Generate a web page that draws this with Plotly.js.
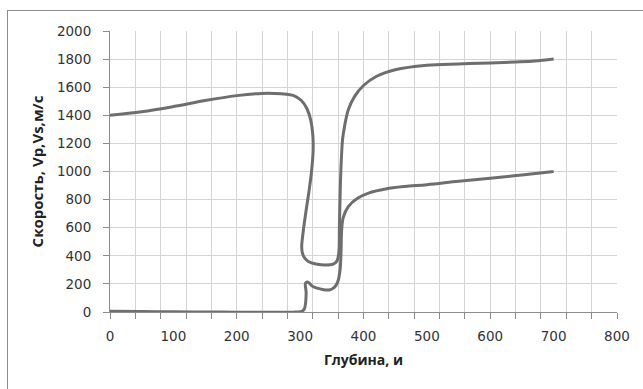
<!DOCTYPE html>
<html>
<head>
<meta charset="utf-8">
<script src="https://cdn.plot.ly/plotly-3.0.1.min.js"></script>
<style>
html,body{margin:0;padding:0;background:#fff;}
#wrap{position:relative;width:643px;height:389px;overflow:hidden;}
#chart{position:absolute;left:0;top:0;width:643px;height:389px;}
#frame{position:absolute;left:7px;top:10px;width:640px;height:385px;border:1px solid #8c8c8c;pointer-events:none;box-sizing:border-box;}
</style>
</head>
<body>
<div id="wrap"><div id="chart"></div><div id="frame"></div></div>
<script>
// Vp curve (upper)
const vpDepth = [0, 50, 100, 150, 200, 240, 270, 290, 302, 311, 317, 320, 320.5, 318, 314, 310, 306.5, 304, 302.5, 303.5, 307, 313, 325, 340, 352, 358, 361, 362, 363.5, 365, 367, 370, 376, 386, 400, 420, 450, 500, 550, 600, 640, 670, 700];
const vpVel   = [1400, 1425, 1462, 1505, 1540, 1556, 1553, 1540, 1505, 1445, 1360, 1260, 1150, 1000, 860, 740, 630, 540, 470, 420, 385, 360, 342, 334, 340, 362, 420, 610, 900, 1082, 1230, 1319, 1440, 1535, 1612, 1676, 1724, 1756, 1766, 1772, 1779, 1786, 1800];
// Vs curve (lower)
const vsDepth = [0, 50, 100, 150, 200, 250, 290, 300, 304, 307, 309.5, 308.5, 312, 320, 333, 346, 354, 359.5, 363, 364.5, 365.5, 368, 376, 390, 410, 435, 465, 500, 550, 600, 650, 700];
const vsVel   = [5, 3, 1, 0, -1, -2, -1, 2, 8, 26, 133, 205, 214, 182, 163, 157, 175, 216, 300, 420, 580, 672, 750, 808, 850, 876, 893, 906, 930, 952, 975, 1000];
// Axis ticks
const xLabelTicks = [0, 100, 200, 300, 400, 500, 600, 700, 800];
const yTicks = [0, 200, 400, 600, 800, 1000, 1200, 1400, 1600, 1800, 2000];

const lineStyle = {color: '#6e6e6e', width: 3, shape: 'spline', smoothing: 1};
const tickFam = '"DejaVu Sans", sans-serif';
const titleFam = '"Open Sans", "DejaVu Sans", sans-serif';

const traces = [
  {x: vpDepth, y: vpVel, type: 'scatter', mode: 'lines', line: lineStyle, hoverinfo: 'skip', xaxis: 'x', yaxis: 'y'},
  {x: vsDepth, y: vsVel, type: 'scatter', mode: 'lines', line: lineStyle, hoverinfo: 'skip', xaxis: 'x', yaxis: 'y'},
  {x: [0, 800], y: [0, 0], type: 'scatter', mode: 'lines', line: {width: 0}, opacity: 0, hoverinfo: 'skip', xaxis: 'x2', yaxis: 'y'}
];

const layout = {
  width: 643, height: 389,
  margin: {l: 110, r: 26, t: 31, b: 77},
  paper_bgcolor: 'rgba(0,0,0,0)',
  plot_bgcolor: '#fff',
  showlegend: false,
  font: {family: tickFam, size: 13.5, color: '#222'},
  xaxis: {
    range: [0, 800], dtick: 40, tick0: 0,
    showgrid: true, gridcolor: '#d4d4d4', gridwidth: 1,
    showticklabels: false, ticks: 'outside', ticklen: 6, tickcolor: '#8c8c8c',
    zeroline: false, showline: true, linecolor: '#8c8c8c', linewidth: 1,
    fixedrange: true
  },
  xaxis2: {
    overlaying: 'x', side: 'bottom', range: [0, 800],
    tickmode: 'array', tickvals: xLabelTicks, ticktext: xLabelTicks.map(String),
    showgrid: false, zeroline: false, showline: false, ticks: '',
    ticklabelstandoff: 14,
    tickfont: {family: tickFam, size: 13.5, color: '#333'},
    title: {text: 'Глубина, и', font: {family: titleFam, size: 14, color: '#222', weight: 'bold'}, standoff: 12},
    fixedrange: true
  },
  yaxis: {
    range: [0, 2000], tickmode: 'array', tickvals: yTicks, ticktext: yTicks.map(String),
    showgrid: true, gridcolor: '#d4d4d4', gridwidth: 1,
    ticks: 'outside', ticklen: 6, tickcolor: '#8c8c8c',
    ticklabelstandoff: 9,
    zeroline: false, showline: true, linecolor: '#8c8c8c', linewidth: 1,
    tickfont: {family: tickFam, size: 13.5, color: '#333'},
    title: {text: 'Скорость, Vp,Vs,м/с', font: {family: titleFam, size: 15, color: '#222', weight: 'bold'}, standoff: 9},
    fixedrange: true
  }
};

Plotly.newPlot('chart', traces, layout, {staticPlot: true, displayModeBar: false});
</script>
</body>
</html>
